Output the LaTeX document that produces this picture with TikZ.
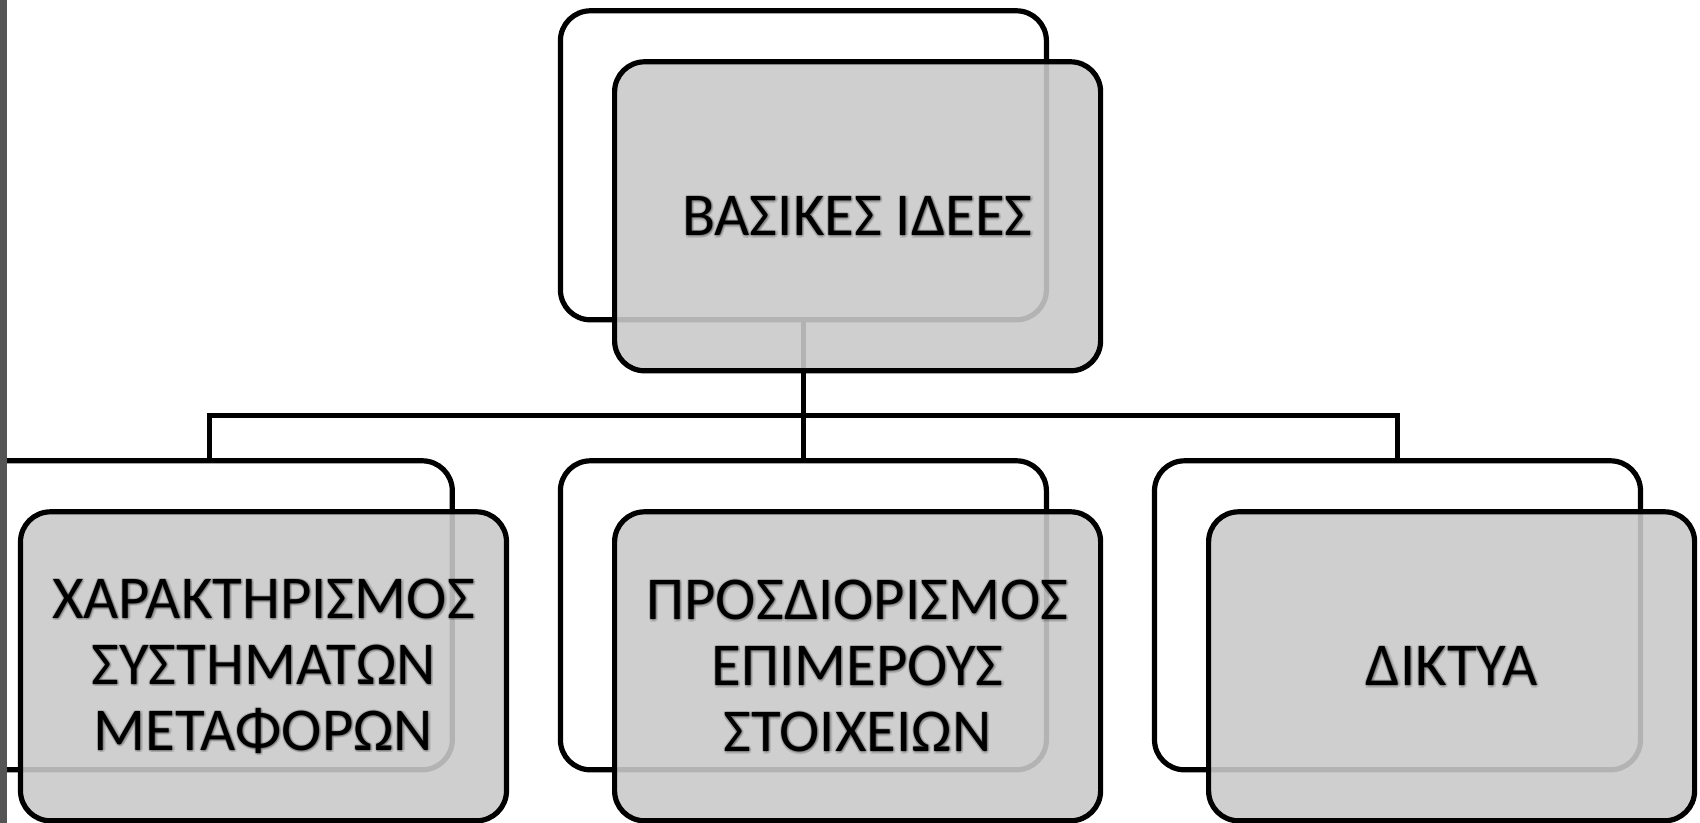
\documentclass[tikz,border=0pt]{standalone}
\usepackage{fontspec}
\setmainfont{Carlito}
\usetikzlibrary{calc}
\definecolor{frontfill}{RGB}{202,202,202}
\definecolor{sidebar}{RGB}{85,85,85}
\tikzset{
  boxsize/.style={minimum width=243pt, minimum height=154.5pt, inner sep=0pt, outer sep=0pt},
  backbox/.style={boxsize, draw=black, line width=2.6pt, rounded corners=15pt, fill=white},
  frontbox/.style={boxsize, draw=black, line width=2.6pt, rounded corners=15pt,
    fill=frontfill, fill opacity=0.89, text opacity=1},
  labeltext/.style={boxsize, align=center, font=\fontsize{30.4pt}{33pt}\selectfont},
  glow/.style={labeltext, text=black, text opacity=0.10},
  link/.style={draw=black, line width=2.4pt}
}
% label with a soft glow under the text
\newcommand\softlabel[3]{%
  \foreach \dx/\dy in {1.0/1.0,-1.0/1.0,1.0/-1.0,-1.0/-1.0,2.0/2.0,0.0/2.2,2.2/0.0}
    \node[glow] at ($(#1)+(\dx,\dy)$) {#3};
  \node[labeltext] (#2) at (#1) {#3};
}
\begin{document}
\begin{tikzpicture}[x=0.5pt, y=-0.5pt]
\useasboundingbox (0,0) rectangle (1700,823);
\clip (0,0) rectangle (1700,823);
\fill[white] (0,0) rectangle (1700,823);

% back frames
\node[backbox] (tb) at (803.4,165.3) {};
\node[backbox] (lb) at (209.3,615.3) {};
\node[backbox] (mb) at (803.4,615.3) {};
\node[backbox] (rb) at (1397.5,615.3) {};

% bus connectors
\coordinate (bus) at (0,415.2);
\draw[link] (tb.south) -- (tb.south |- bus) -| (lb.north);
\draw[link] (tb.south) -- (mb.north);
\draw[link] (tb.south |- bus) -| (rb.north);

% front boxes
\node[frontbox] (tf) at (857.6,216.3) {};
\node[frontbox] (lf) at (263.5,666.3) {};
\node[frontbox] (mf) at (857.6,666.3) {};
\node[frontbox] (rf) at (1451.6,666.3) {};

% labels
\softlabel{tf.center}{tt}{ΒΑΣΙΚΕΣ ΙΔΕΕΣ}
\softlabel{lf.center}{lt}{ΧΑΡΑΚΤΗΡΙΣΜΟΣ\\ΣΥΣΤΗΜΑΤΩΝ\\ΜΕΤΑΦΟΡΩΝ}
\softlabel{mf.center}{mt}{ΠΡΟΣΔΙΟΡΙΣΜΟΣ\\ΕΠΙΜΕΡΟΥΣ\\ΣΤΟΙΧΕΙΩΝ}
\softlabel{rf.center}{rt}{ΔΙΚΤΥΑ}

% side bar at the left edge
\fill[sidebar] (0,0) rectangle (6.5,823);
\end{tikzpicture}
\end{document}
